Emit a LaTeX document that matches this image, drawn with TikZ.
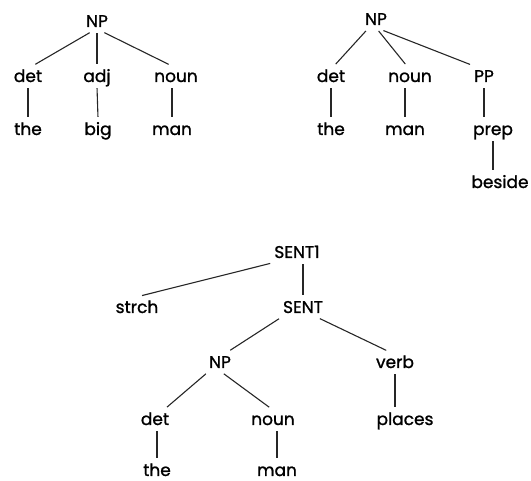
\documentclass[tikz,border=0pt]{standalone}
\usepackage{fontspec}
\setmainfont{Poppins}[FakeBold=1.2]

\begin{document}
\begin{tikzpicture}[
	x=1pt, y=-1pt,
	word/.style={anchor=base, inner sep=3pt, text height=14pt, text depth=2pt, font=\fontsize{17}{20}\selectfont},
	branch/.style={line width=1.1pt, black!85, shorten <=1pt, shorten >=1pt}
	]
	
	\useasboundingbox (0,0) rectangle (531,481);
	
	% NP -> det adj noun
	\node[word] (NPa) at (97,27) {NP};
	\node[word] (deta) at (28,82) {det};
	\node[word] (adja) at (97,82) {adj};
	\node[word] (nouna) at (176,82) {noun};
	\node[word] (thea) at (28,135) {the};
	\node[word] (biga) at (98,135) {big};
	\node[word] (mana) at (172,135) {man};
	
	\draw[branch] (NPa.-120) -- (deta.60);
	\draw[branch] (NPa.south) -- (adja.north);
	\draw[branch] (NPa.-60) -- (nouna.120);
	\draw[branch] (deta.south) -- (thea.north);
	\draw[branch] (adja.south) -- (biga.north);
	\draw[branch] (mana.north |- nouna.south) -- (mana.north);
	
	% NP -> det noun PP
	\node[word] (NPb) at (376,25) {NP};
	\node[word] (detb) at (331,82) {det};
	\node[word] (nounb) at (410,82) {noun};
	\node[word] (PPb) at (484,82) {PP};
	\node[word] (theb) at (331,135) {the};
	\node[word] (manb) at (405,135) {man};
	\node[word] (prepb) at (493,135) {prep};
	\node[word] (besideb) at (500,188) {beside};
	
	\draw[branch] (NPb.-130) -- (detb.70);
	\draw[branch] (NPb.-80) -- (nounb.110);
	\draw[branch] (NPb.-60) -- (PPb.north west);
	\draw[branch] (detb.south) -- (theb.north);
	\draw[branch] (manb.north |- nounb.south) -- (manb.north);
	\draw[branch] (PPb.south) -- (PPb.south |- prepb.north);
	\draw[branch] (prepb.south) -- (prepb.south |- besideb.north);
	
	% SENT1 -> strch SENT
	\node[word] (SENTa) at (297,258) {SENT1};
	\node[word] (strch) at (137,313) {strch};
	\node[word] (SENT) at (303,313) {SENT};
	\node[word] (NPc) at (220,368) {NP};
	\node[word] (verb) at (395,368) {verb};
	\node[word] (detc) at (155,425) {det};
	\node[word] (nounc) at (273,425) {noun};
	\node[word] (places) at (405,425) {places};
	\node[word] (thec) at (157,476) {the};
	\node[word] (manc) at (277,476) {man};
	
	\draw[branch] (SENTa.south west) -- (strch.70);
	\draw[branch] (SENT.north |- SENTa.south) -- (SENT.north);
	\draw[branch] (SENT.south west) -- (NPc.50);
	\draw[branch] (SENT.-35) -- (verb.125);
	\draw[branch] (NPc.-140) -- (detc.45);
	\draw[branch] (NPc.-75) -- (nounc.105);
	\draw[branch] (verb.south) -- (verb.south |- places.north);
	\draw[branch] (thec.north |- detc.south) -- (thec.north);
	\draw[branch] (manc.north |- nounc.south) -- (manc.north);
	
\end{tikzpicture}
\end{document}
